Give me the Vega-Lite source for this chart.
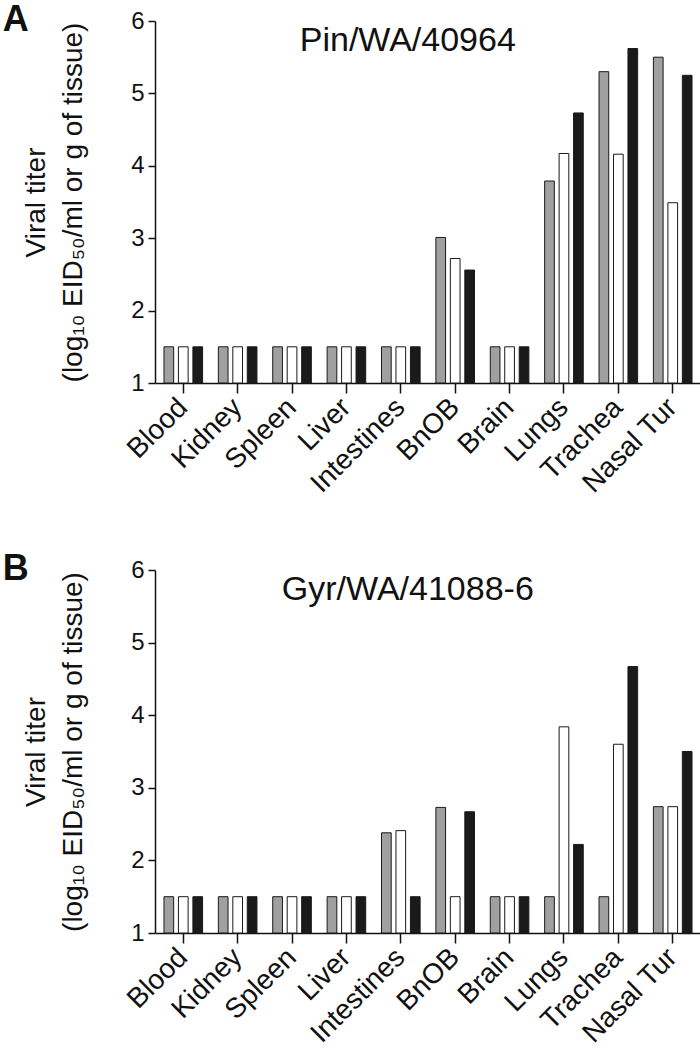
{
  "$schema": "https://vega.github.io/schema/vega-lite/v6.json",
  "background": "white",
  "padding": {"left": 2, "top": 2, "right": 0, "bottom": 0},
  "spacing": 53,
  "config": {
    "view": {"stroke": null},
    "font": "Liberation Sans",
    "axis": {"grid": false, "domainColor": "#111", "tickColor": "#111", "labelColor": "#111", "titleColor": "#111", "domainWidth": 1.5, "tickWidth": 1.5, "labelFont": "Liberation Sans", "titleFont": "Liberation Sans"}
  },
  "datasets": {
    "titer": [
      {"panel": "A", "tissue": "Blood", "series": "Series 1", "titer": 1.5},
      {"panel": "A", "tissue": "Blood", "series": "Series 2", "titer": 1.5},
      {"panel": "A", "tissue": "Blood", "series": "Series 3", "titer": 1.5},
      {"panel": "A", "tissue": "Kidney", "series": "Series 1", "titer": 1.5},
      {"panel": "A", "tissue": "Kidney", "series": "Series 2", "titer": 1.5},
      {"panel": "A", "tissue": "Kidney", "series": "Series 3", "titer": 1.5},
      {"panel": "A", "tissue": "Spleen", "series": "Series 1", "titer": 1.5},
      {"panel": "A", "tissue": "Spleen", "series": "Series 2", "titer": 1.5},
      {"panel": "A", "tissue": "Spleen", "series": "Series 3", "titer": 1.5},
      {"panel": "A", "tissue": "Liver", "series": "Series 1", "titer": 1.5},
      {"panel": "A", "tissue": "Liver", "series": "Series 2", "titer": 1.5},
      {"panel": "A", "tissue": "Liver", "series": "Series 3", "titer": 1.5},
      {"panel": "A", "tissue": "Intestines", "series": "Series 1", "titer": 1.5},
      {"panel": "A", "tissue": "Intestines", "series": "Series 2", "titer": 1.5},
      {"panel": "A", "tissue": "Intestines", "series": "Series 3", "titer": 1.5},
      {"panel": "A", "tissue": "BnOB", "series": "Series 1", "titer": 3.01},
      {"panel": "A", "tissue": "BnOB", "series": "Series 2", "titer": 2.72},
      {"panel": "A", "tissue": "BnOB", "series": "Series 3", "titer": 2.56},
      {"panel": "A", "tissue": "Brain", "series": "Series 1", "titer": 1.5},
      {"panel": "A", "tissue": "Brain", "series": "Series 2", "titer": 1.5},
      {"panel": "A", "tissue": "Brain", "series": "Series 3", "titer": 1.5},
      {"panel": "A", "tissue": "Lungs", "series": "Series 1", "titer": 3.79},
      {"panel": "A", "tissue": "Lungs", "series": "Series 2", "titer": 4.17},
      {"panel": "A", "tissue": "Lungs", "series": "Series 3", "titer": 4.73},
      {"panel": "A", "tissue": "Trachea", "series": "Series 1", "titer": 5.3},
      {"panel": "A", "tissue": "Trachea", "series": "Series 2", "titer": 4.16},
      {"panel": "A", "tissue": "Trachea", "series": "Series 3", "titer": 5.62},
      {"panel": "A", "tissue": "Nasal Tur", "series": "Series 1", "titer": 5.5},
      {"panel": "A", "tissue": "Nasal Tur", "series": "Series 2", "titer": 3.49},
      {"panel": "A", "tissue": "Nasal Tur", "series": "Series 3", "titer": 5.25},
      {"panel": "B", "tissue": "Blood", "series": "Series 1", "titer": 1.5},
      {"panel": "B", "tissue": "Blood", "series": "Series 2", "titer": 1.5},
      {"panel": "B", "tissue": "Blood", "series": "Series 3", "titer": 1.5},
      {"panel": "B", "tissue": "Kidney", "series": "Series 1", "titer": 1.5},
      {"panel": "B", "tissue": "Kidney", "series": "Series 2", "titer": 1.5},
      {"panel": "B", "tissue": "Kidney", "series": "Series 3", "titer": 1.5},
      {"panel": "B", "tissue": "Spleen", "series": "Series 1", "titer": 1.5},
      {"panel": "B", "tissue": "Spleen", "series": "Series 2", "titer": 1.5},
      {"panel": "B", "tissue": "Spleen", "series": "Series 3", "titer": 1.5},
      {"panel": "B", "tissue": "Liver", "series": "Series 1", "titer": 1.5},
      {"panel": "B", "tissue": "Liver", "series": "Series 2", "titer": 1.5},
      {"panel": "B", "tissue": "Liver", "series": "Series 3", "titer": 1.5},
      {"panel": "B", "tissue": "Intestines", "series": "Series 1", "titer": 2.38},
      {"panel": "B", "tissue": "Intestines", "series": "Series 2", "titer": 2.41},
      {"panel": "B", "tissue": "Intestines", "series": "Series 3", "titer": 1.5},
      {"panel": "B", "tissue": "BnOB", "series": "Series 1", "titer": 2.73},
      {"panel": "B", "tissue": "BnOB", "series": "Series 2", "titer": 1.5},
      {"panel": "B", "tissue": "BnOB", "series": "Series 3", "titer": 2.67},
      {"panel": "B", "tissue": "Brain", "series": "Series 1", "titer": 1.5},
      {"panel": "B", "tissue": "Brain", "series": "Series 2", "titer": 1.5},
      {"panel": "B", "tissue": "Brain", "series": "Series 3", "titer": 1.5},
      {"panel": "B", "tissue": "Lungs", "series": "Series 1", "titer": 1.5},
      {"panel": "B", "tissue": "Lungs", "series": "Series 2", "titer": 3.84},
      {"panel": "B", "tissue": "Lungs", "series": "Series 3", "titer": 2.22},
      {"panel": "B", "tissue": "Trachea", "series": "Series 1", "titer": 1.5},
      {"panel": "B", "tissue": "Trachea", "series": "Series 2", "titer": 3.6},
      {"panel": "B", "tissue": "Trachea", "series": "Series 3", "titer": 4.67},
      {"panel": "B", "tissue": "Nasal Tur", "series": "Series 1", "titer": 2.74},
      {"panel": "B", "tissue": "Nasal Tur", "series": "Series 2", "titer": 2.74},
      {"panel": "B", "tissue": "Nasal Tur", "series": "Series 3", "titer": 3.5}
    ],
    "strains": [
      {"panel": "A", "strain": "Pin/WA/40964"},
      {"panel": "B", "strain": "Gyr/WA/41088-6"}
    ]
  },
  "vconcat": [
    {
      "width": 546,
      "height": 362,
      "title": {"text": "A", "anchor": "start", "frame": "bounds", "fontSize": 36, "fontWeight": "bold", "font": "Liberation Sans", "color": "#111", "dx": -20, "offset": -30},
      "layer": [
        {
          "data": {"name": "titer"},
          "transform": [{"filter": "datum.panel === 'A'"}],
          "mark": {"type": "bar", "stroke": "#1a1a1a", "strokeWidth": 1},
          "encoding": {
            "x": {"field": "tissue", "type": "nominal", "title": null,
              "scale": {"domain": ["Blood", "Kidney", "Spleen", "Liver", "Intestines", "BnOB", "Brain", "Lungs", "Trachea", "Nasal Tur"], "paddingInner": 0.29, "paddingOuter": 0.165},
              "axis": {"labelAngle": -45, "labelAlign": "right", "labelBaseline": "middle", "labelFontSize": 28, "tickSize": 10, "labelPadding": 10, "labelOverlap": false}},
            "xOffset": {"field": "series", "type": "nominal", "scale": {"domain": ["Series 1", "Series 2", "Series 3"], "paddingInner": 0.33}},
            "y": {"field": "titer", "type": "quantitative", "scale": {"domain": [1, 6], "zero": false, "nice": false},
              "axis": {"values": [1, 2, 3, 4, 5, 6], "format": "d", "tickSize": 7, "labelFontSize": 24, "labelPadding": 4, "title": ["Viral titer", "(log₁₀ EID₅₀/ml or g of tissue)"], "titleFontSize": 28, "titleFontWeight": "normal", "titleLineHeight": 37, "titlePadding": 43}},
            "y2": {"datum": 1},
            "color": {"field": "series", "type": "nominal", "scale": {"domain": ["Series 1", "Series 2", "Series 3"], "range": ["#a0a0a0", "#ffffff", "#1a1a1a"]}, "legend": null}
          }
        },
        {
          "data": {"name": "strains"},
          "transform": [{"filter": "datum.panel === 'A'"}],
          "mark": {"type": "text", "fontSize": 34, "font": "Liberation Sans", "color": "#111", "align": "center", "baseline": "alphabetic", "dx": 7},
          "encoding": {
            "x": {"datum": "Intestines"},
            "y": {"datum": 5.585},
            "text": {"field": "strain", "type": "nominal"}
          }
        }
      ]
    },
    {
      "width": 546,
      "height": 363,
      "title": {"text": "B", "anchor": "start", "frame": "bounds", "fontSize": 36, "fontWeight": "bold", "font": "Liberation Sans", "color": "#111", "dx": -20, "offset": -30},
      "layer": [
        {
          "data": {"name": "titer"},
          "transform": [{"filter": "datum.panel === 'B'"}],
          "mark": {"type": "bar", "stroke": "#1a1a1a", "strokeWidth": 1},
          "encoding": {
            "x": {"field": "tissue", "type": "nominal", "title": null,
              "scale": {"domain": ["Blood", "Kidney", "Spleen", "Liver", "Intestines", "BnOB", "Brain", "Lungs", "Trachea", "Nasal Tur"], "paddingInner": 0.29, "paddingOuter": 0.165},
              "axis": {"labelAngle": -45, "labelAlign": "right", "labelBaseline": "middle", "labelFontSize": 28, "tickSize": 10, "labelPadding": 10, "labelOverlap": false}},
            "xOffset": {"field": "series", "type": "nominal", "scale": {"domain": ["Series 1", "Series 2", "Series 3"], "paddingInner": 0.33}},
            "y": {"field": "titer", "type": "quantitative", "scale": {"domain": [1, 6], "zero": false, "nice": false},
              "axis": {"values": [1, 2, 3, 4, 5, 6], "format": "d", "tickSize": 7, "labelFontSize": 24, "labelPadding": 4, "title": ["Viral titer", "(log₁₀ EID₅₀/ml or g of tissue)"], "titleFontSize": 28, "titleFontWeight": "normal", "titleLineHeight": 37, "titlePadding": 43}},
            "y2": {"datum": 1},
            "color": {"field": "series", "type": "nominal", "scale": {"domain": ["Series 1", "Series 2", "Series 3"], "range": ["#a0a0a0", "#ffffff", "#1a1a1a"]}, "legend": null}
          }
        },
        {
          "data": {"name": "strains"},
          "transform": [{"filter": "datum.panel === 'B'"}],
          "mark": {"type": "text", "fontSize": 34, "font": "Liberation Sans", "color": "#111", "align": "center", "baseline": "alphabetic", "dx": 7},
          "encoding": {
            "x": {"datum": "Intestines"},
            "y": {"datum": 5.585},
            "text": {"field": "strain", "type": "nominal"}
          }
        }
      ]
    }
  ]
}
